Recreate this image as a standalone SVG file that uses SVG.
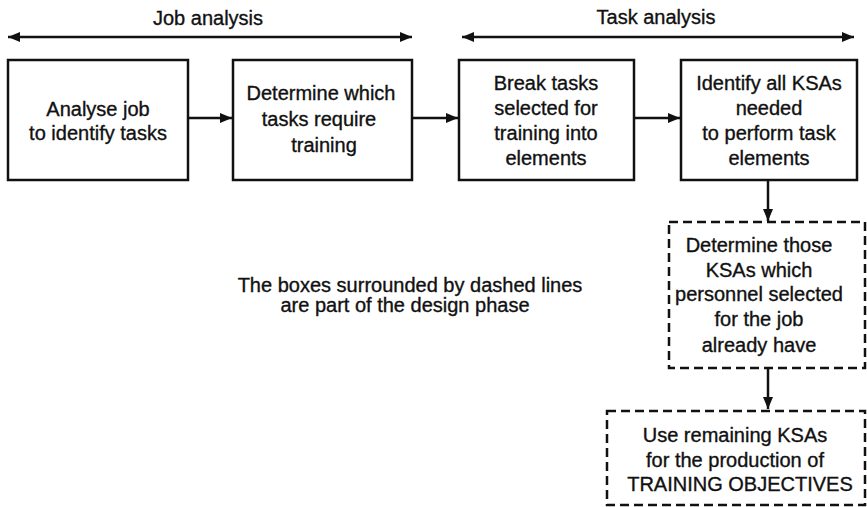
<svg xmlns="http://www.w3.org/2000/svg" width="867" height="507" viewBox="0 0 867 507">
<defs>
<marker id="ah" viewBox="0 0 12 10" refX="12" refY="5" markerWidth="12" markerHeight="10" markerUnits="userSpaceOnUse" orient="auto-start-reverse">
<path d="M0,0 L12,5 L0,10 Z" fill="#111"/>
</marker>
</defs>
<style>
text{font-family:"Liberation Sans",Arial,sans-serif;font-size:20px;fill:#111;stroke:#111;stroke-width:0.35;text-anchor:middle}
.box{fill:#fff;stroke:#111;stroke-width:2.5}
.dash{fill:#fff;stroke:#111;stroke-width:2.5;stroke-dasharray:9 5}
.conn{stroke:#111;stroke-width:2.5;fill:none}
</style>
<rect width="867" height="507" fill="#fff"/>
<g id="labels">
<text x="208" y="25">Job analysis</text>
<text x="656" y="24">Task analysis</text>
<text x="410" y="292">The boxes surrounded by dashed lines</text>
<text x="405" y="312">are part of the design phase</text>
</g>
<g id="connectors">
<line class="conn" x1="8" y1="37" x2="412" y2="37" marker-start="url(#ah)" marker-end="url(#ah)"/>
<line class="conn" x1="462" y1="37" x2="854" y2="37" marker-start="url(#ah)" marker-end="url(#ah)"/>
<line class="conn" x1="188" y1="118" x2="232" y2="118" marker-end="url(#ah)"/>
<line class="conn" x1="413" y1="118" x2="458" y2="118" marker-end="url(#ah)"/>
<line class="conn" x1="635" y1="118" x2="680" y2="118" marker-end="url(#ah)"/>
<line class="conn" x1="768" y1="181" x2="768" y2="221" marker-end="url(#ah)"/>
<line class="conn" x1="768" y1="369" x2="768" y2="409" marker-end="url(#ah)"/>
</g>
<g id="n1">
<rect class="box" x="8" y="60" width="180" height="120"/>
<text x="98" y="116">Analyse job</text>
<text x="98" y="140">to identify tasks</text>
</g>
<g id="n2">
<rect class="box" x="233" y="60" width="179" height="120"/>
<text x="321" y="100">Determine which</text>
<text x="319" y="126">tasks require</text>
<text x="324" y="152">training</text>
</g>
<g id="n3">
<rect class="box" x="459" y="60" width="175" height="120"/>
<text x="546" y="90">Break tasks</text>
<text x="546" y="115">selected for</text>
<text x="546" y="140">training into</text>
<text x="546" y="165">elements</text>
</g>
<g id="n4">
<rect class="box" x="681" y="60" width="176" height="120"/>
<text x="769" y="90">Identify all KSAs</text>
<text x="769" y="115">needed</text>
<text x="769" y="140">to perform task</text>
<text x="769" y="165">elements</text>
</g>
<g id="n5">
<rect class="dash" x="669" y="222" width="196" height="146"/>
<text x="759" y="252">Determine those</text>
<text x="759" y="277">KSAs which</text>
<text x="759" y="301">personnel selected</text>
<text x="759" y="326">for the job</text>
<text x="759" y="352">already have</text>
</g>
<g id="n6">
<rect class="dash" x="607" y="411" width="258" height="94"/>
<text x="735" y="442">Use remaining KSAs</text>
<text x="735" y="467">for the production of</text>
<text x="740" y="491">TRAINING OBJECTIVES</text>
</g>
</svg>
